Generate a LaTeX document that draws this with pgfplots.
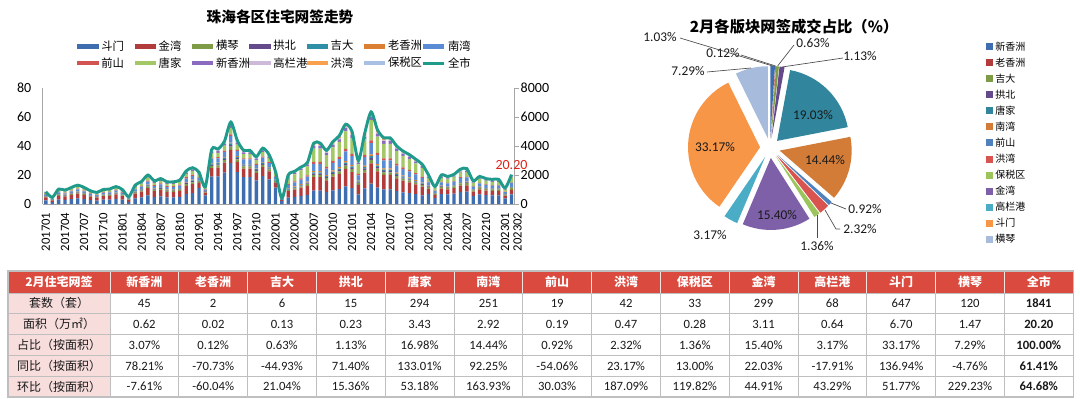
\documentclass[border=0pt]{standalone}
\usepackage{fontspec}
\setmainfont{Carlito}
\newfontfamily\cjk{Noto Sans CJK SC}
\usepackage{pgfplots}
\usepackage{pgfplotstable}
\pgfplotsset{compat=1.18}

\definecolor{cDM}{HTML}{3F6EB0}
\definecolor{cJW}{HTML}{B23B3B}
\definecolor{cHQ}{HTML}{7E9B45}
\definecolor{cGB}{HTML}{644A8A}
\definecolor{cJD}{HTML}{2F8FA6}
\definecolor{cLXZ}{HTML}{DB7F33}
\definecolor{cNW}{HTML}{5A8CD6}
\definecolor{cQS}{HTML}{D25450}
\definecolor{cTJ}{HTML}{A4C865}
\definecolor{cXXZ}{HTML}{8B6BBF}
\definecolor{cGLG}{HTML}{CDB9D8}
\definecolor{cHW}{HTML}{F8A04C}
\definecolor{cBSQ}{HTML}{A8C0E2}
\definecolor{cALL}{HTML}{1F9A8B}

\definecolor{pXXZ}{HTML}{3F6EB0}
\definecolor{pLXZ}{HTML}{B23B3B}
\definecolor{pJD}{HTML}{7E9B45}
\definecolor{pGB}{HTML}{644A8A}
\definecolor{pTJ}{HTML}{31869E}
\definecolor{pNW}{HTML}{D27C37}
\definecolor{pQS}{HTML}{4F81BD}
\definecolor{pHW}{HTML}{D9534F}
\definecolor{pBSQ}{HTML}{9BC45A}
\definecolor{pJW}{HTML}{7E60A8}
\definecolor{pGLG}{HTML}{4BACC6}
\definecolor{pDM}{HTML}{F79646}
\definecolor{pHQ}{HTML}{A7BCDC}

\definecolor{axgray}{HTML}{A6A6A6}
\definecolor{hdr}{HTML}{DA4A3E}
\definecolor{pinkc}{HTML}{F8DDDD}
\definecolor{gridc}{HTML}{BFBFBF}
\definecolor{lblred}{HTML}{E0201B}

% month index, total (全市), then 斗门 金湾 横琴 拱北 吉大 老香洲 南湾 前山 唐家 新香洲 高栏港 洪湾 保税区
\pgfplotstableread{
i T dm jw hq gb jd lxz nw qs tj xxz glg hw bsq
0 8.4 2.52 2.10 0.42 0.25 0.17 0.17 0.84 0.34 0.84 0.34 0.17 0.17 0.08
1 4.6 1.38 1.15 0.23 0.14 0.09 0.09 0.46 0.18 0.46 0.18 0.09 0.09 0.05
2 10.3 3.09 2.58 0.52 0.31 0.21 0.21 1.03 0.41 1.03 0.41 0.21 0.21 0.10
3 9.6 2.88 2.40 0.48 0.29 0.19 0.19 0.96 0.38 0.96 0.38 0.19 0.19 0.10
4 11.4 3.42 2.85 0.57 0.34 0.23 0.23 1.14 0.46 1.14 0.46 0.23 0.23 0.11
5 13.0 3.90 3.25 0.65 0.39 0.26 0.26 1.30 0.52 1.30 0.52 0.26 0.26 0.13
6 11.4 3.42 2.85 0.57 0.34 0.23 0.23 1.14 0.46 1.14 0.46 0.23 0.23 0.11
7 9.1 2.73 2.28 0.46 0.27 0.18 0.18 0.91 0.36 0.91 0.36 0.18 0.18 0.09
8 8.0 2.40 2.00 0.40 0.24 0.16 0.16 0.80 0.32 0.80 0.32 0.16 0.16 0.08
9 10.0 3.00 2.50 0.50 0.30 0.20 0.20 1.00 0.40 1.00 0.40 0.20 0.20 0.10
10 10.3 3.09 2.58 0.52 0.31 0.21 0.21 1.03 0.41 1.03 0.41 0.21 0.21 0.10
11 12.0 3.60 3.00 0.60 0.36 0.24 0.24 1.20 0.48 1.20 0.48 0.24 0.24 0.12
12 10.0 3.00 2.50 0.50 0.30 0.20 0.20 1.00 0.40 1.00 0.40 0.20 0.20 0.10
13 5.0 1.50 1.25 0.25 0.15 0.10 0.10 0.50 0.20 0.50 0.20 0.10 0.10 0.05
14 13.0 3.90 3.25 0.65 0.39 0.26 0.26 1.30 0.52 1.30 0.52 0.26 0.26 0.13
15 15.5 4.65 3.88 0.78 0.47 0.31 0.31 1.55 0.62 1.55 0.62 0.31 0.31 0.16
16 20.0 6.00 5.00 1.00 0.60 0.40 0.40 2.00 0.80 2.00 0.80 0.40 0.40 0.20
17 16.0 4.80 4.00 0.80 0.48 0.32 0.32 1.60 0.64 1.60 0.64 0.32 0.32 0.16
18 17.5 5.25 4.38 0.88 0.53 0.35 0.35 1.75 0.70 1.75 0.70 0.35 0.35 0.18
19 15.3 4.59 3.83 0.77 0.46 0.31 0.31 1.53 0.61 1.53 0.61 0.31 0.31 0.15
20 15.3 4.59 3.83 0.77 0.46 0.31 0.31 1.53 0.61 1.53 0.61 0.31 0.31 0.15
21 16.5 4.95 4.13 0.83 0.50 0.33 0.33 1.65 0.66 1.65 0.66 0.33 0.33 0.17
22 22.8 6.84 5.70 1.14 0.68 0.46 0.46 2.28 0.91 2.28 0.91 0.46 0.46 0.23
23 25.0 7.50 6.25 1.25 0.75 0.50 0.50 2.50 1.00 2.50 1.00 0.50 0.50 0.25
24 22.0 11.00 3.52 0.88 0.44 0.44 0.22 1.76 0.44 1.76 0.66 0.44 0.22 0.22
25 12.0 6.00 1.92 0.48 0.24 0.24 0.12 0.96 0.24 0.96 0.36 0.24 0.12 0.12
26 37.6 18.80 6.02 1.50 0.75 0.75 0.38 3.01 0.75 3.01 1.13 0.75 0.38 0.38
27 38.0 19.00 6.08 1.52 0.76 0.76 0.38 3.04 0.76 3.04 1.14 0.76 0.38 0.38
28 43.3 21.65 6.93 1.73 0.87 0.87 0.43 3.46 0.87 3.46 1.30 0.87 0.43 0.43
29 56.5 28.25 9.04 2.26 1.13 1.13 0.57 4.52 1.13 4.52 1.70 1.13 0.57 0.57
30 44.0 22.00 7.04 1.76 0.88 0.88 0.44 3.52 0.88 3.52 1.32 0.88 0.44 0.44
31 37.0 18.50 5.92 1.48 0.74 0.74 0.37 2.96 0.74 2.96 1.11 0.74 0.37 0.37
32 37.0 18.50 5.92 1.48 0.74 0.74 0.37 2.96 0.74 2.96 1.11 0.74 0.37 0.37
33 32.6 16.30 5.22 1.30 0.65 0.65 0.33 2.61 0.65 2.61 0.98 0.65 0.33 0.33
34 38.5 19.25 6.16 1.54 0.77 0.77 0.39 3.08 0.77 3.08 1.16 0.77 0.39 0.39
35 34.0 17.00 5.44 1.36 0.68 0.68 0.34 2.72 0.68 2.72 1.02 0.68 0.34 0.34
36 22.5 11.25 3.60 0.90 0.45 0.45 0.23 1.80 0.45 1.80 0.68 0.45 0.23 0.23
37 4.0 2.00 0.64 0.16 0.08 0.08 0.04 0.32 0.08 0.32 0.12 0.08 0.04 0.04
38 20.0 4.40 4.40 0.80 0.40 0.40 0.40 2.40 0.60 4.40 0.80 0.40 0.40 0.20
39 22.5 4.95 4.95 0.90 0.45 0.45 0.45 2.70 0.68 4.95 0.90 0.45 0.45 0.23
40 25.5 5.61 5.61 1.02 0.51 0.51 0.51 3.06 0.77 5.61 1.02 0.51 0.51 0.26
41 28.5 6.27 6.27 1.14 0.57 0.57 0.57 3.42 0.86 6.27 1.14 0.57 0.57 0.29
42 42.0 9.24 9.24 1.68 0.84 0.84 0.84 5.04 1.26 9.24 1.68 0.84 0.84 0.42
43 42.0 9.24 9.24 1.68 0.84 0.84 0.84 5.04 1.26 9.24 1.68 0.84 0.84 0.42
44 37.0 8.14 8.14 1.48 0.74 0.74 0.74 4.44 1.11 8.14 1.48 0.74 0.74 0.37
45 43.0 9.46 9.46 1.72 0.86 0.86 0.86 5.16 1.29 9.46 1.72 0.86 0.86 0.43
46 47.0 10.34 10.34 1.88 0.94 0.94 0.94 5.64 1.41 10.34 1.88 0.94 0.94 0.47
47 55.0 12.10 12.10 2.20 1.10 1.10 1.10 6.60 1.65 12.10 2.20 1.10 1.10 0.55
48 50.0 11.00 11.00 2.00 1.00 1.00 1.00 6.00 1.50 11.00 2.00 1.00 1.00 0.50
49 30.0 6.60 6.60 1.20 0.60 0.60 0.60 3.60 0.90 6.60 1.20 0.60 0.60 0.30
50 49.0 10.78 10.78 1.96 0.98 0.98 0.98 5.88 1.47 10.78 1.96 0.98 0.98 0.49
51 63.5 13.97 13.97 2.54 1.27 1.27 1.27 7.62 1.91 13.97 2.54 1.27 1.27 0.64
52 51.0 11.22 11.22 2.04 1.02 1.02 1.02 6.12 1.53 11.22 2.04 1.02 1.02 0.51
53 45.6 10.03 10.03 1.82 0.91 0.91 0.91 5.47 1.37 10.03 1.82 0.91 0.91 0.46
54 45.6 10.03 10.03 1.82 0.91 0.91 0.91 5.47 1.37 10.03 1.82 0.91 0.91 0.46
55 40.0 8.80 8.80 1.60 0.80 0.80 0.80 4.80 1.20 8.80 1.60 0.80 0.80 0.40
56 36.5 8.03 8.03 1.46 0.73 0.73 0.73 4.38 1.10 8.03 1.46 0.73 0.73 0.37
57 34.0 7.48 7.48 1.36 0.68 0.68 0.68 4.08 1.02 7.48 1.36 0.68 0.68 0.34
58 30.8 6.78 6.78 1.23 0.62 0.62 0.62 3.70 0.92 6.78 1.23 0.62 0.62 0.31
59 27.4 6.03 6.03 1.10 0.55 0.55 0.55 3.29 0.82 6.03 1.10 0.55 0.55 0.27
60 20.0 7.00 3.60 1.20 0.40 0.20 0.20 2.40 0.40 2.60 0.60 0.60 0.40 0.40
61 12.0 4.20 2.16 0.72 0.24 0.12 0.12 1.44 0.24 1.56 0.36 0.36 0.24 0.24
62 20.0 7.00 3.60 1.20 0.40 0.20 0.20 2.40 0.40 2.60 0.60 0.60 0.40 0.40
63 19.0 6.65 3.42 1.14 0.38 0.19 0.19 2.28 0.38 2.47 0.57 0.57 0.38 0.38
64 20.5 7.18 3.69 1.23 0.41 0.21 0.21 2.46 0.41 2.67 0.62 0.62 0.41 0.41
65 24.0 8.40 4.32 1.44 0.48 0.24 0.24 2.88 0.48 3.12 0.72 0.72 0.48 0.48
66 24.4 8.54 4.39 1.46 0.49 0.24 0.24 2.93 0.49 3.17 0.73 0.73 0.49 0.49
67 16.0 5.60 2.88 0.96 0.32 0.16 0.16 1.92 0.32 2.08 0.48 0.48 0.32 0.32
68 19.0 6.65 3.42 1.14 0.38 0.19 0.19 2.28 0.38 2.47 0.57 0.57 0.38 0.38
69 17.5 6.13 3.15 1.05 0.35 0.18 0.18 2.10 0.35 2.28 0.53 0.53 0.35 0.35
70 17.0 5.95 3.06 1.02 0.34 0.17 0.17 2.04 0.34 2.21 0.51 0.51 0.34 0.34
71 17.0 5.95 3.06 1.02 0.34 0.17 0.17 2.04 0.34 2.21 0.51 0.51 0.34 0.34
72 11.0 3.85 1.98 0.66 0.22 0.11 0.11 1.32 0.22 1.43 0.33 0.33 0.22 0.22
73 20.2 6.70 3.11 1.47 0.23 0.13 0.02 2.92 0.19 3.43 0.62 0.64 0.47 0.28
}\data

\pgfplotsset{sb/.style={fill=#1, draw=none,
  legend image code/.code={\fill[fill=#1] (0pt,-1.7pt) rectangle (16pt,1.7pt);}}}

% pie slice: start %, end %, colour (cumulative shares, clockwise from 12 o'clock)
\newcommand{\slice}[3]{\fill[#3, shift={({90-1.8*(#1+#2)}:7.5pt)}] (770,-148) -- ++({90-3.6*(#1)}:54pt) arc[start angle={90-3.6*(#1)}, end angle={90-3.6*(#2)}, radius=54pt] -- cycle;}

\begin{document}
\begin{tikzpicture}
\path[use as bounding box] (0pt,0pt) rectangle (810pt,-299.25pt);

% ---------- stacked bars ----------
\begin{axis}[
  at={(32pt,-153pt)}, anchor=south west,
  scale only axis, width=354pt, height=87pt,
  xmin=-0.5, xmax=73.5, ymin=0, ymax=80,
  ybar stacked, bar width=2.5pt,
  axis y line*=left, axis x line*=bottom,
  axis line style={draw=axgray, line width=0.7pt},
  ytick={0,20,40,60,80},
  xtick={0,3,6,9,12,15,18,21,24,27,30,33,36,39,42,45,48,51,54,57,60,63,66,69,72},
  xticklabels={201701,201704,201707,201710,201801,201804,201807,201810,201901,201904,201907,201910,202001,202004,202007,202010,202101,202104,202107,202110,202201,202204,202207,202210,202301},
  extra x ticks={73}, extra x tick labels={202302},
  extra x tick style={xticklabel style={yshift=-4.5pt}},
  major tick length=0pt,
  /pgf/number format/assume math mode=true,
  yticklabel style={font=\fontsize{10.5}{12}\selectfont, xshift=-5pt},
  xticklabel style={font=\fontsize{9.5}{11}\selectfont, rotate=90, anchor=east, xshift=-3pt},
  legend columns=7,
  legend style={at={(0.5,1)}, anchor=south, yshift=10pt, draw=none, fill=none,
    font=\cjk\fontsize{8.5}{10}\selectfont,
    /tikz/every even column/.append style={column sep=1pt},
    /tikz/every odd column/.append style={column sep=0pt}},
  legend cell align=left,
  clip=false,
]
\addplot[sb=cDM] table[x=i,y=dm]{\data}; \addlegendentry{\makebox[22pt][l]{斗门}}
\addplot[sb=cJW] table[x=i,y=jw]{\data}; \addlegendentry{\makebox[22pt][l]{金湾}}
\addplot[sb=cHQ] table[x=i,y=hq]{\data}; \addlegendentry{\makebox[22pt][l]{横琴}}
\addplot[sb=cGB] table[x=i,y=gb]{\data}; \addlegendentry{\makebox[22pt][l]{拱北}}
\addplot[sb=cJD] table[x=i,y=jd]{\data}; \addlegendentry{\makebox[22pt][l]{吉大}}
\addplot[sb=cLXZ] table[x=i,y=lxz]{\data}; \addlegendentry{\makebox[22pt][l]{老香洲}}
\addplot[sb=cNW] table[x=i,y=nw]{\data}; \addlegendentry{\makebox[22pt][l]{南湾}}
\addplot[sb=cQS] table[x=i,y=qs]{\data}; \addlegendentry{\makebox[22pt][l]{前山}}
\addplot[sb=cTJ] table[x=i,y=tj]{\data}; \addlegendentry{\makebox[22pt][l]{唐家}}
\addplot[sb=cXXZ] table[x=i,y=xxz]{\data}; \addlegendentry{\makebox[22pt][l]{新香洲}}
\addplot[sb=cGLG] table[x=i,y=glg]{\data}; \addlegendentry{\makebox[22pt][l]{高栏港}}
\addplot[sb=cHW] table[x=i,y=hw]{\data}; \addlegendentry{\makebox[22pt][l]{洪湾}}
\addplot[sb=cBSQ] table[x=i,y=bsq]{\data}; \addlegendentry{\makebox[22pt][l]{保税区}}
\addlegendimage{legend image code/.code={\draw[cALL, line width=2pt] (0pt,0pt) -- (16pt,0pt);}}
\addlegendentry{\makebox[22pt][l]{全市}}
\end{axis}

% ---------- total line + right axis ----------
\begin{axis}[
  at={(32pt,-153pt)}, anchor=south west,
  scale only axis, width=354pt, height=87pt,
  xmin=-0.5, xmax=73.5, ymin=0, ymax=80,
  axis y line*=right, axis x line=none,
  axis line style={draw=axgray, line width=0.7pt},
  ytick={0,20,40,60,80}, yticklabels={0,2000,4000,6000,8000},
  tick align=outside, major tick length=3pt, ytick style={draw=axgray},
  /pgf/number format/assume math mode=true,
  yticklabel style={font=\fontsize{10.5}{12}\selectfont, xshift=-2pt},
  clip=false,
]
\addplot[cALL, line width=2.2pt, smooth, tension=0.45] table[x=i,y=T]{\data};
\node[lblred, font=\fontsize{10.5}{12}\selectfont, anchor=south, inner sep=1pt] at (axis cs:73,20.2) [yshift=3pt] {20.20};
\end{axis}

% ---------- pie ----------
\begin{axis}[
  at={(0pt,-299.25pt)}, anchor=south west,
  scale only axis, width=810pt, height=299.25pt,
  xmin=0, xmax=1080, ymin=-399, ymax=0,
  hide axis, clip=false,
]
\slice{0}{1.03}{pXXZ}
\slice{1.03}{1.15}{pLXZ}
\slice{1.15}{1.78}{pJD}
\slice{1.78}{2.91}{pGB}
\slice{2.91}{21.94}{pTJ}
\slice{21.94}{36.38}{pNW}
\slice{36.38}{37.30}{pQS}
\slice{37.30}{39.62}{pHW}
\slice{39.62}{40.98}{pBSQ}
\slice{40.98}{56.38}{pJW}
\slice{56.38}{59.55}{pGLG}
\slice{59.55}{92.72}{pDM}
\slice{92.72}{100.00}{pHQ}
\end{axis}

% ---------- texts, pie labels, table (pixel coordinates, y down) ----------
\begin{scope}[x=0.75pt, y=-0.75pt]
\node[font=\cjk\bfseries\fontsize{11}{13}\selectfont] at (280,17) {珠海各区住宅网签走势};
\node[font=\cjk\bfseries\fontsize{11.5}{13}\selectfont] at (794,27) {2月各版块网签成交占比（\%）};

% pie labels
\begin{scope}[every node/.style={font=\fontsize{10}{12}\selectfont, text=black!90, inner sep=1pt}]
\node at (813,115) {19.03\%};
\node at (825,160) {14.44\%};
\node at (777,215) {15.40\%};
\node at (715,147) {33.17\%};
\node at (660,37) {1.03\%};
\node at (723,53) {0.12\%};
\node at (813,43) {0.63\%};
\node at (860,56) {1.13\%};
\node at (865,209) {0.92\%};
\node at (860,229) {2.32\%};
\node at (817,246) {1.36\%};
\node at (710,235) {3.17\%};
\node at (688,71) {7.29\%};
\end{scope}
\begin{scope}[draw=black!70, line width=0.5pt]
\draw (680,38) -- (772.7,66);
\draw (741,55) -- (775.6,66);
\draw (794,45) -- (777.6,66);
\draw (843,58) -- (782,67);
\draw (846,209) -- (831,203);
\draw (840,229) -- (836,229) -- (825,210);
\draw (817,238) -- (817,215);
\draw (707,72) -- (751,68);
\end{scope}

% pie legend
\foreach \c/\t [count=\k from 0] in {pXXZ/新香洲,pLXZ/老香洲,pJD/吉大,pGB/拱北,pTJ/唐家,pNW/南湾,pQS/前山,pHW/洪湾,pBSQ/保税区,pJW/金湾,pGLG/高栏港,pDM/斗门,pHQ/横琴}{
  \fill[\c] (986,{43.5+16*\k}) rectangle (993,{50.5+16*\k});
  \node[anchor=west, font=\cjk\fontsize{7.5}{9}\selectfont, inner sep=0pt] at (995,{47+16*\k}) {\t};
}

% table
\fill[hdr] (8,271) rectangle (1073.2,293);
\fill[pinkc] (8,293) rectangle (110,397);
\foreach \yy in {313.8,334.6,355.4,376.2} \draw[gridc, line width=0.6pt] (8,\yy) -- (1073.2,\yy);
\foreach \k in {0,...,13} {
  \draw[gridc, line width=0.6pt] ({110+68.8*\k},293) -- ({110+68.8*\k},397);
  \draw[white!85!hdr, line width=0.6pt] ({110+68.8*\k},271) -- ({110+68.8*\k},293);
}
\draw[gridc, line width=0.6pt] (8,293) -- (1073.2,293);
\draw[gridc, line width=0.8pt] (8,271) rectangle (1073.2,397);

\node[white, font=\cjk\bfseries\fontsize{9}{11}\selectfont] at (59,282) {2月住宅网签};
\foreach \t [count=\i] in {新香洲,老香洲,吉大,拱北,唐家,南湾,前山,洪湾,保税区,金湾,高栏港,斗门,横琴,全市}
  \node[white, font=\cjk\bfseries\fontsize{9}{11}\selectfont] at ({110+68.8*(\i-0.5)},282) {\t};

\begin{scope}[every node/.style={font=\cjk\fontsize{9}{11}\selectfont, text=black!90}]
\node at (59,303.4) {套数（套）};
\node at (59,324.2) {面积（万㎡）};
\node at (59,345) {占比（按面积）};
\node at (59,365.8) {同比（按面积）};
\node at (59,386.6) {环比（按面积）};
\end{scope}

\begin{scope}[every node/.style={font=\fontsize{9.5}{11}\selectfont, text=black!90}]
\foreach \t [count=\i] in {45,2,6,15,294,251,19,42,33,299,68,647,120}
  \node at ({110+68.8*(\i-0.5)},303.4) {\t};
\foreach \t [count=\i] in {0.62,0.02,0.13,0.23,3.43,2.92,0.19,0.47,0.28,3.11,0.64,6.70,1.47}
  \node at ({110+68.8*(\i-0.5)},324.2) {\t};
\foreach \t [count=\i] in {3.07\%,0.12\%,0.63\%,1.13\%,16.98\%,14.44\%,0.92\%,2.32\%,1.36\%,15.40\%,3.17\%,33.17\%,7.29\%}
  \node at ({110+68.8*(\i-0.5)},345) {\t};
\foreach \t [count=\i] in {78.21\%,-70.73\%,-44.93\%,71.40\%,133.01\%,92.25\%,-54.06\%,23.17\%,13.00\%,22.03\%,-17.91\%,136.94\%,-4.76\%}
  \node at ({110+68.8*(\i-0.5)},365.8) {\t};
\foreach \t [count=\i] in {-7.61\%,-60.04\%,21.04\%,15.36\%,53.18\%,163.93\%,30.03\%,187.09\%,119.82\%,44.91\%,43.29\%,51.77\%,229.23\%}
  \node at ({110+68.8*(\i-0.5)},386.6) {\t};
\node[font=\bfseries\fontsize{9.5}{11}\selectfont] at (1038.8,303.4) {1841};
\node[font=\bfseries\fontsize{9.5}{11}\selectfont] at (1038.8,324.2) {20.20};
\node[font=\bfseries\fontsize{9.5}{11}\selectfont] at (1038.8,345) {100.00\%};
\node[font=\bfseries\fontsize{9.5}{11}\selectfont] at (1038.8,365.8) {61.41\%};
\node[font=\bfseries\fontsize{9.5}{11}\selectfont] at (1038.8,386.6) {64.68\%};
\end{scope}
\end{scope}
\end{tikzpicture}
\end{document}
